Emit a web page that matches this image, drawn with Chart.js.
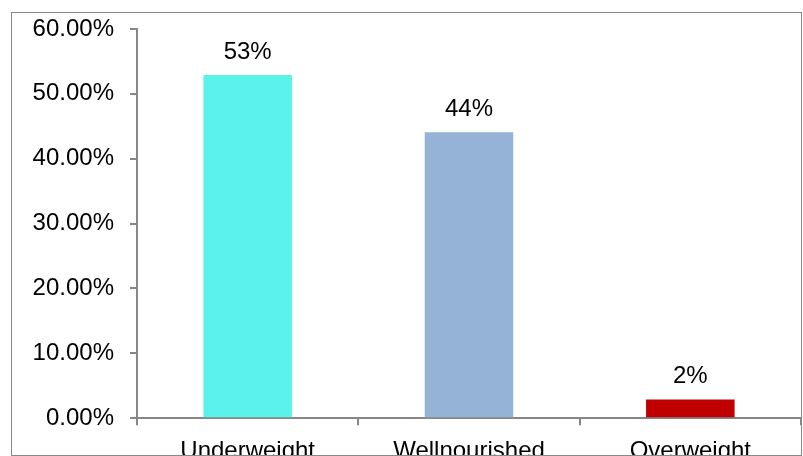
<!DOCTYPE html>
<html>
<head>
<meta charset="utf-8">
<script src="https://cdn.jsdelivr.net/npm/chart.js@4.4.1/dist/chart.umd.min.js"></script>
<style>
  body { margin: 0; background: #fff; }
  #frame {
    position: absolute; left: 11px; top: 12px;
    width: 789px; height: 442px;
    border: 1px solid #888;
    overflow: hidden;
  }
  canvas { display: block; }
</style>
</head>
<body>
<div id="frame"><canvas id="bmiChart" width="789" height="465"></canvas></div>
<script>
const categories = ['Underweight', 'Wellnourished', 'Overweight'];
const shares = [52.9, 44.1, 2.9];
const shareLabels = ['53%', '44%', '2%'];
const barColors = ['#5cf2ec', '#95b3d7', '#c00000'];
const yTicks = [0, 10, 20, 30, 40, 50, 60];

const FONT = 'Liberation Sans, Arial, sans-serif';
const axisGray = '#878787';

// draws the percentage above each bar
const barLabels = {
  id: 'barLabels',
  afterDatasetsDraw(chart) {
    const ctx = chart.ctx;
    const meta = chart.getDatasetMeta(0);
    ctx.save();
    ctx.font = '24px ' + FONT;
    ctx.fillStyle = '#000';
    ctx.textAlign = 'center';
    ctx.textBaseline = 'alphabetic';
    meta.data.forEach((bar, i) => {
      ctx.fillText(shareLabels[i], bar.x, bar.y - 16);
    });
    ctx.restore();
  }
};

new Chart(document.getElementById('bmiChart'), {
  type: 'bar',
  data: {
    labels: categories,
    datasets: [{
      data: shares,
      backgroundColor: barColors,
      barPercentage: 0.4,
      categoryPercentage: 1
    }]
  },
  options: {
    responsive: false,
    animation: false,
    layout: { padding: { top: 16, right: 0, left: 0, bottom: 0 } },
    plugins: { legend: { display: false }, tooltip: { enabled: false } },
    scales: {
      x: {
        grid: { drawOnChartArea: false, drawTicks: true, tickLength: 7, tickColor: axisGray, lineWidth: 2, offset: true },
        border: { color: axisGray, width: 2 },
        ticks: { color: '#000', font: { family: FONT, size: 24 }, padding: 12 }
      },
      y: {
        min: 0,
        max: 60,
        afterBuildTicks: (scale) => { scale.ticks = yTicks.map(v => ({ value: v })); },
        afterFit: (scale) => {
          scale.width = 125;
          scale.paddingTop = 0;
          scale.paddingBottom = 0;
        },
        grid: { drawOnChartArea: false, drawTicks: true, tickLength: 7, tickColor: axisGray, lineWidth: 2 },
        border: { color: axisGray, width: 2 },
        ticks: {
          color: '#000',
          font: { family: FONT, size: 24 },
          padding: 16,
          callback: (v) => Number(v).toFixed(2) + '%'
        }
      }
    }
  },
  plugins: [barLabels]
});
</script>
</body>
</html>
